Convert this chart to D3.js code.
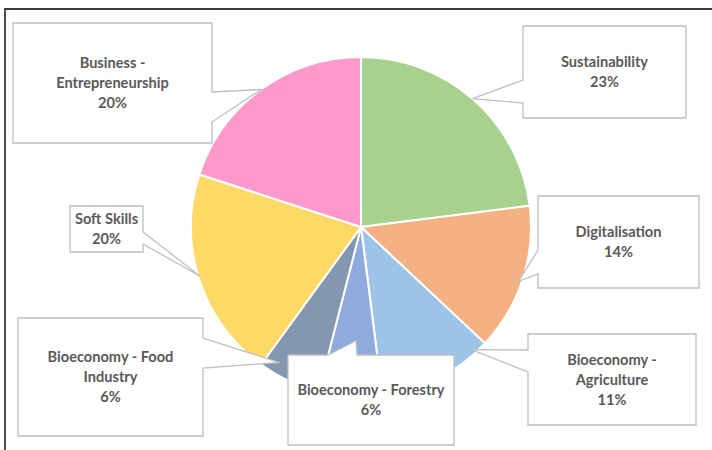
<!DOCTYPE html>
<html>
<head>
<meta charset="utf-8">
<script src="https://cdn.jsdelivr.net/npm/d3@7"></script>
<style>
  html, body { margin: 0; padding: 0; background: #fff; }
  svg { display: block; }
  .label-text { font-family: Lato, "Open Sans", sans-serif; font-weight: bold; font-size: 14.6px; fill: #595959; }
</style>
</head>
<body>
<div id="chart"></div>
<script>
// data
const categories = [
  "Sustainability",
  "Digitalisation",
  "Bioeconomy - Agriculture",
  "Bioeconomy - Forestry",
  "Bioeconomy - Food Industry",
  "Soft Skills",
  "Business - Entrepreneurship"
];
const values = [23, 14, 11, 6, 6, 20, 20];
const labelLines = [
  ["Sustainability"],
  ["Digitalisation"],
  ["Bioeconomy -", "Agriculture"],
  ["Bioeconomy - Forestry"],
  ["Bioeconomy - Food", "Industry"],
  ["Soft Skills"],
  ["Business -", "Entrepreneurship"]
];
const colors = ["#A9D18E", "#F4B183", "#9DC3E6", "#8FAADC", "#8497B0", "#FFD966", "#FF99CC"];

// callout layout (manually placed, like the original)
// box: x, y, w, h; side where the pointer leaves; a1/a2 offsets along that side; tip: angle (deg), radius fraction
const callouts = [
  { x: 523, y: 26,  w: 163, h: 92,  side: "left",  a1: 54, a2: 77, tip: [41, 1] },
  { x: 538, y: 196, w: 161, h: 92,  side: "left",  a1: 54, a2: 78, tip: [109, 0.98] },
  { x: 528, y: 334, w: 168, h: 91,  side: "left",  a1: 16, a2: 38, tip: [138, 0.97] },
  { x: 288, y: 355, w: 166, h: 90,  side: "top",   a1: 40, a2: 69, tip: [182.5, 0.67] },
  { x: 18,  y: 318, w: 185, h: 118, side: "right", a1: 20, a2: 50, tip: [211, 0.93] },
  { x: 70,  y: 206, w: 73,  h: 46,  side: "right", a1: 26, a2: 38, tip: [253, 0.99] },
  { x: 13,  y: 23,  w: 199, h: 120, side: "right", a1: 69, a2: 99, tip: [324, 1] }
];

const width = 712, height = 450;
const cx = 361, cy = 227, radius = 170;
const lineGap = 20;

const svg = d3.select("#chart").append("svg")
  .attr("width", width)
  .attr("height", height);

// chart frame (only top and left edges fall inside the picture)
svg.append("path")
  .attr("d", `M5,${height} L5,9 L${width},9`)
  .attr("fill", "none")
  .attr("stroke", "#3a3a3a")
  .attr("stroke-width", 1.8);

const pie = d3.pie().sort(null).value(d => d.value);
const arc = d3.arc().innerRadius(0).outerRadius(radius);

const data = categories.map((c, i) => ({ name: c, value: values[i], lines: labelLines[i], color: colors[i], callout: callouts[i] }));
const arcs = pie(data);
const total = d3.sum(values);

const g = svg.append("g").attr("transform", `translate(${cx},${cy})`);

g.selectAll("path.slice")
  .data(arcs)
  .join("path")
  .attr("class", "slice")
  .attr("d", arc)
  .attr("fill", d => d.data.color)
  .attr("stroke", "#fff")
  .attr("stroke-width", 2);

function tipPoint(c) {
  const a = c.tip[0] * Math.PI / 180;
  const r = radius * c.tip[1];
  return [cx + r * Math.sin(a), cy - r * Math.cos(a)];
}

function calloutPath(c) {
  const [tx, ty] = tipPoint(c);
  const x0 = c.x, y0 = c.y, x1 = c.x + c.w, y1 = c.y + c.h;
  let pts;
  if (c.side === "left") {
    pts = [[x0, y0], [x1, y0], [x1, y1], [x0, y1], [x0, y0 + c.a2], [tx, ty], [x0, y0 + c.a1]];
  } else if (c.side === "right") {
    pts = [[x0, y0], [x1, y0], [x1, y0 + c.a1], [tx, ty], [x1, y0 + c.a2], [x1, y1], [x0, y1]];
  } else {
    pts = [[x0, y0], [x0 + c.a1, y0], [tx, ty], [x0 + c.a2, y0], [x1, y0], [x1, y1], [x0, y1]];
  }
  return "M" + pts.map(p => p.join(",")).join("L") + "Z";
}

const labels = svg.selectAll("g.callout")
  .data(arcs)
  .join("g")
  .attr("class", "callout");

labels.append("path")
  .attr("d", d => calloutPath(d.data.callout))
  .attr("fill", "#fff")
  .attr("stroke", "#BFBFBF")
  .attr("stroke-width", 1.3)
  .attr("stroke-linejoin", "miter");

labels.each(function (d) {
  const c = d.data.callout;
  const lines = d.data.lines.concat([Math.round(d.data.value / total * 100) + "%"]);
  const midX = c.x + c.w / 2;
  const startY = c.y + c.h / 2 - (lines.length - 1) * lineGap / 2;
  d3.select(this).selectAll("text")
    .data(lines)
    .join("text")
    .attr("class", "label-text")
    .attr("x", midX)
    .attr("y", (t, i) => startY + i * lineGap)
    .attr("dy", "0.35em")
    .attr("text-anchor", "middle")
    .text(t => t);
});
</script>
</body>
</html>
